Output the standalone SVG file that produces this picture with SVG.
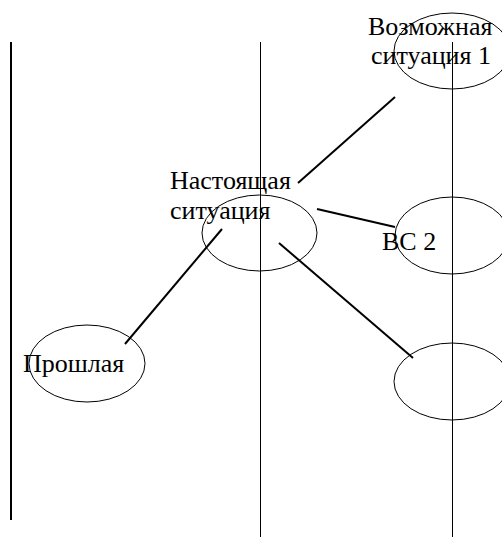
<svg xmlns="http://www.w3.org/2000/svg" width="502" height="537" viewBox="0 0 502 537">
  <style>
    .bg { fill: #ffffff; }
    .axis { stroke: #000; stroke-width: 1; fill: none; }
    .axis-main { stroke: #000; stroke-width: 2; fill: none; }
    .node { fill: none; stroke: #000; stroke-width: 1; }
    .link { stroke: #000; stroke-width: 2; fill: none; }
    .label { font-family: "Liberation Serif", "Times New Roman", serif; font-size: 26px; fill: #000; }
  </style>
  <rect class="bg" x="0" y="0" width="502" height="537"/>

  <!-- time axes -->
  <g id="axes">
    <line class="axis-main" x1="11" y1="42" x2="11" y2="520"/>
    <line class="axis" x1="260.5" y1="42" x2="260.5" y2="537"/>
    <line class="axis" x1="452.5" y1="42" x2="452.5" y2="537"/>
  </g>

  <!-- connectors -->
  <g id="connectors">
    <line class="link" x1="298" y1="183" x2="395" y2="97"/>
    <line class="link" x1="317" y1="209" x2="395" y2="227"/>
    <line class="link" x1="279" y1="243" x2="413" y2="358"/>
    <line class="link" x1="125" y1="344" x2="222" y2="229"/>
  </g>

  <g id="possible-1">
    <ellipse class="node" cx="452" cy="51" rx="58" ry="38"/>
    <text class="label" x="368" y="35">Возможная</text>
    <text class="label" x="371" y="64">ситуация 1</text>
  </g>

  <g id="present">
    <ellipse class="node" cx="259.5" cy="233" rx="57.5" ry="38"/>
    <text class="label" x="170" y="189">Настоящая</text>
    <text class="label" x="170" y="219">ситуация</text>
  </g>

  <g id="possible-2">
    <ellipse class="node" cx="452" cy="235.5" rx="57" ry="38.5"/>
    <text class="label" x="382" y="250">BC 2</text>
  </g>

  <g id="possible-3">
    <ellipse class="node" cx="452" cy="381.5" rx="58" ry="38.5"/>
  </g>

  <g id="past">
    <ellipse class="node" cx="87" cy="363.5" rx="58" ry="38.5"/>
    <text class="label" x="23" y="372">Прошлая</text>
  </g>
</svg>
